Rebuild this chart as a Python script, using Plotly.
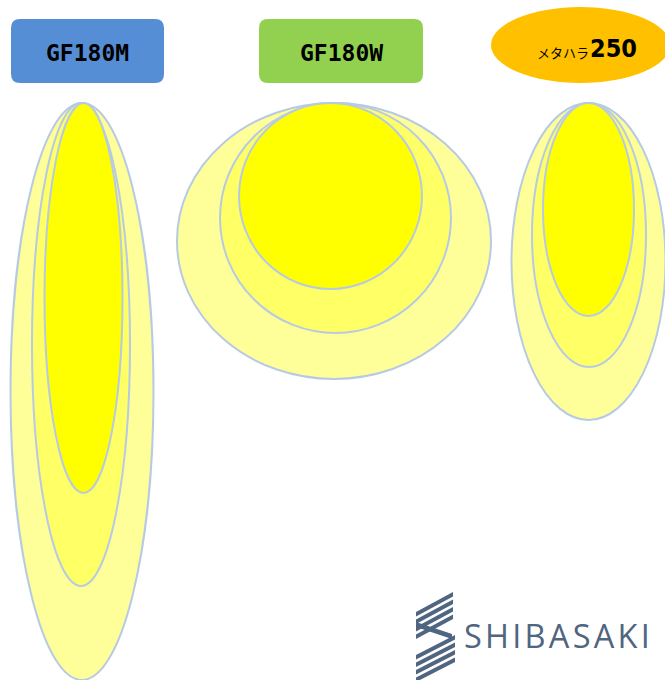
import plotly.graph_objects as go

# ---- data (illustration units = px of the original drawing) ----
fixtures = ["GF180M", "GF180W", "250"]
fixture_prefix = ["", "", "メタハラ"]
# beam footprint, three intensity levels ordered outer -> inner
gf180m_width = [143, 98, 78]
gf180m_depth = [577, 483, 390]
gf180w_width = [314, 231, 183]
gf180w_depth = [276, 230, 186]
mh250_width = [154, 114, 91]
mh250_depth = [317, 264, 213]

widths = [gf180m_width, gf180w_width, mh250_width]
depths = [gf180m_depth, gf180w_depth, mh250_depth]

# ---- layout / style ----
W, H = 665, 680
centers_x = [[82, 81, 83.5], [334, 335.5, 330.5], [588.5, 589, 588.5]]
top_y = 103
level_fill = ["#FFFF99", "#FFFF66", "#FFFF00"]
edge = "#B7CAE3"

shapes = []
for cxs, ws, ds in zip(centers_x, widths, depths):
    for cx, w, d, col in zip(cxs, ws, ds, level_fill):
        shapes.append(dict(type="circle", xref="x", yref="y",
                           x0=cx - w / 2, x1=cx + w / 2,
                           y0=top_y, y1=top_y + d,
                           fillcolor=col, line=dict(color=edge, width=2),
                           layer="above"))


def rrect(x0, y0, x1, y1, r):
    return (f"M{x0+r},{y0} L{x1-r},{y0} Q{x1},{y0} {x1},{y0+r} "
            f"L{x1},{y1-r} Q{x1},{y1} {x1-r},{y1} L{x0+r},{y1} "
            f"Q{x0},{y1} {x0},{y1-r} L{x0},{y0+r} Q{x0},{y0} {x0+r},{y0} Z")


label_boxes = [(11, 19, 164, 83, "#558ED5"), (259, 19, 423, 83, "#92D050")]
for x0, y0, x1, y1, c in label_boxes:
    shapes.append(dict(type="path", xref="x", yref="y", path=rrect(x0, y0, x1, y1, 9),
                       fillcolor=c, line=dict(width=0), layer="above"))
shapes.append(dict(type="circle", xref="x", yref="y", x0=491, x1=670, y0=7, y1=83,
                   fillcolor="#FFC000", line=dict(width=0), layer="above"))

# logo icon: diagonal stripes forming a stylised "S"
logo_col = "#4F6580"
for i in range(4):
    y = 592 + i * 7.5
    shapes.append(dict(type="path", xref="x", yref="y",
                       path=f"M416,{y+20} L453,{y} L453,{y+4.5} L416,{y+24.5} Z",
                       fillcolor=logo_col, line=dict(width=0), layer="above"))
for i in range(4):
    y = 635 + i * 7.5
    shapes.append(dict(type="path", xref="x", yref="y",
                       path=f"M416,{y+20} L455,{y} L455,{y+4.5} L416,{y+24.5} Z",
                       fillcolor=logo_col, line=dict(width=0), layer="above"))
# middle band of the S
shapes.append(dict(type="path", xref="x", yref="y",
                   path="M416,622 L452,634 L452,639 L416,627 Z",
                   fillcolor=logo_col, line=dict(width=0), layer="above"))

hs = "\u200a"
annotations = [
    dict(x=87.5, y=53, text="<b>GF180M</b>", showarrow=False, xref="x", yref="y",
         font=dict(family="DejaVu Sans Mono", size=23, color="black")),
    dict(x=341, y=53, text="<b>GF180W</b>", showarrow=False, xref="x", yref="y",
         font=dict(family="DejaVu Sans Mono", size=23, color="black")),
    dict(x=563, y=52, text=fixture_prefix[2], showarrow=False, xref="x", yref="y",
         font=dict(family="Noto Sans CJK JP", size=13, color="black")),
    dict(x=613, y=48, text="<b>" + fixtures[2] + "</b>", showarrow=False, xref="x", yref="y",
         font=dict(family="DejaVu Sans Condensed", size=25, color="black")),
    dict(x=557, y=635, text=hs.join("SHIBASAKI"), showarrow=False, xref="x", yref="y",
         font=dict(family="Open Sans", size=32.5, color=logo_col)),
]

fig = go.Figure()
fig.add_trace(go.Scatter(x=[0], y=[0], mode="markers", marker=dict(opacity=0),
                         hoverinfo="skip", showlegend=False))
fig.update_layout(
    width=W, height=H, margin=dict(l=0, r=0, t=0, b=0),
    paper_bgcolor="white", plot_bgcolor="white",
    xaxis=dict(range=[0, W], visible=False, fixedrange=True),
    yaxis=dict(range=[H, 0], visible=False, fixedrange=True),
    shapes=shapes, annotations=annotations, showlegend=False,
)
fig.write_html("out.html", config={"displayModeBar": False},
               post_script="document.body.style.margin='0';document.body.style.overflow='hidden';")
